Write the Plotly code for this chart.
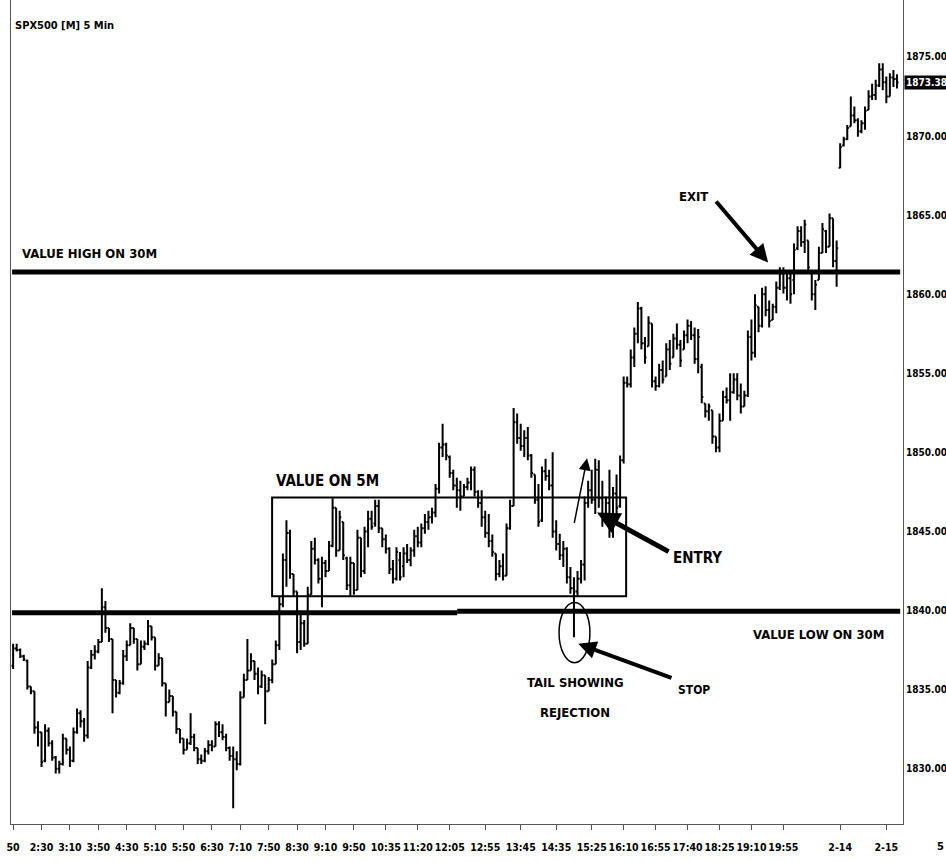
import plotly.graph_objects as go

# ---------------- data ----------------
opens = [
    1836.5, 1837.6, 1837.5, 1837.1, 1836.8, 1835.2, 1834.9, 1832.6, 1832.3, 1830.5,
    1832.4, 1831.6, 1830.7, 1830.0, 1830.3, 1831.9, 1831.2, 1830.5, 1832.3, 1833.5,
    1833.0, 1832.1, 1836.4, 1837.2, 1837.4, 1838.0, 1840.2, 1838.9, 1838.2, 1835.6,
    1834.8, 1835.4, 1837.1, 1837.8, 1838.9, 1838.2, 1836.6, 1837.7, 1837.9, 1839.0,
    1838.3, 1836.5, 1837.0, 1835.4, 1834.2, 1834.6, 1833.6, 1832.5, 1831.9, 1831.2,
    1831.6, 1832.0, 1831.3, 1830.6, 1830.5, 1831.1, 1831.5, 1831.4, 1832.8, 1832.3,
    1832.0, 1831.3, 1830.8, 1830.6, 1830.3, 1834.5, 1835.6, 1836.2, 1836.8, 1836.0,
    1835.2, 1835.9, 1834.9, 1835.6, 1836.6, 1837.8, 1840.4, 1843.2, 1844.9, 1842.3,
    1841.2, 1838.0, 1839.2, 1837.9, 1841.0, 1843.9, 1843.2, 1842.0, 1843.0, 1842.5,
    1844.1, 1846.5, 1843.8, 1845.6, 1843.3, 1841.6, 1843.0, 1841.3, 1844.6, 1842.5,
    1845.0, 1845.8, 1845.5, 1846.6, 1845.2, 1844.5, 1843.9, 1842.6, 1842.0, 1843.2,
    1842.8, 1843.6, 1843.2, 1843.8, 1844.7, 1844.3, 1845.2, 1845.6, 1845.9, 1846.2,
    1847.7, 1850.3, 1850.5, 1849.7, 1848.7, 1847.9, 1847.6, 1847.2, 1847.8, 1848.1,
    1848.9, 1847.5, 1846.8, 1845.9, 1844.9, 1844.4, 1843.6, 1842.3, 1842.8, 1842.2,
    1845.2, 1846.6, 1851.9, 1850.9, 1850.4, 1850.9, 1849.8, 1848.6, 1847.0, 1845.7,
    1848.8, 1848.5, 1847.9, 1845.0, 1844.2, 1843.5, 1843.9, 1842.1, 1841.4, 1841.2,
    1842.0, 1842.9, 1846.8, 1847.6, 1847.0, 1848.9, 1847.1, 1846.0, 1846.8, 1845.9,
    1847.4, 1846.6, 1849.5, 1854.4, 1854.3, 1856.0, 1857.5, 1859.1, 1856.9, 1856.7,
    1858.15, 1854.5, 1854.2, 1855.2, 1854.8, 1856.5, 1856.0, 1857.2, 1856.8, 1856.5,
    1857.4, 1858.0, 1857.4, 1855.9, 1855.4, 1853.08, 1852.6, 1852.66, 1851.0, 1850.3,
    1852.0, 1853.5, 1853.3, 1853.8, 1854.6, 1853.6, 1852.9, 1853.6, 1857.3, 1856.3,
    1859.2, 1858.0, 1860.0, 1859.0, 1858.36, 1859.2, 1860.4, 1861.3, 1860.4, 1861.0,
    1860.9, 1862.9, 1864.0, 1863.3, 1863.4, 1861.3, 1860.0, 1860.9, 1862.6, 1864.0,
    1863.0, 1864.8, 1862.1, 1868.0, 1869.4, 1869.8, 1870.6, 1871.3, 1871.0, 1870.3,
    1870.8, 1871.65, 1872.5, 1872.6, 1873.2, 1874.2, 1873.4, 1872.5, 1873.7, 1873.6,
]
highs = [
    1837.9, 1837.9, 1837.6, 1837.2, 1836.9, 1835.2, 1834.9, 1833.0, 1832.3, 1832.8,
    1832.6, 1831.8, 1830.8, 1830.5, 1832.2, 1831.9, 1831.4, 1832.6, 1833.8, 1833.7,
    1833.2, 1836.8, 1837.5, 1837.8, 1838.2, 1841.4, 1840.6, 1838.9, 1838.2, 1835.6,
    1835.6, 1837.5, 1838.1, 1839.2, 1838.9, 1838.2, 1838.1, 1838.1, 1839.4, 1839.0,
    1838.3, 1837.3, 1837.0, 1835.4, 1835.0, 1834.6, 1833.6, 1832.5, 1831.9, 1831.9,
    1833.5, 1832.2, 1831.3, 1830.9, 1831.3, 1831.8, 1831.8, 1833.0, 1833.0, 1832.8,
    1832.2, 1831.4, 1831.4, 1831.1, 1834.9, 1836.0, 1838.2, 1837.3, 1836.8, 1836.4,
    1836.2, 1835.9, 1835.8, 1836.9, 1838.1, 1840.9, 1843.6, 1845.7, 1845.1, 1842.3,
    1841.2, 1839.8, 1839.4, 1841.5, 1844.4, 1844.6, 1843.3, 1843.4, 1843.2, 1844.4,
    1847.1, 1846.5, 1846.3, 1845.6, 1843.4, 1843.4, 1843.0, 1845.1, 1844.6, 1845.3,
    1846.3, 1846.3, 1847.0, 1847.0, 1845.2, 1844.8, 1844.0, 1843.2, 1844.0, 1843.7,
    1844.0, 1844.2, 1844.0, 1845.1, 1845.3, 1845.5, 1846.1, 1846.3, 1846.5, 1848.0,
    1850.6, 1851.8, 1850.6, 1849.8, 1848.9, 1848.4, 1848.2, 1848.0, 1848.4, 1849.1,
    1849.1, 1847.6, 1847.6, 1846.3, 1846.1, 1844.8, 1843.6, 1843.2, 1843.6, 1845.5,
    1847.0, 1852.8, 1852.45, 1851.8, 1851.4, 1851.6, 1849.9, 1848.6, 1848.0, 1849.1,
    1849.6, 1848.9, 1850.0, 1845.7, 1844.85, 1844.4, 1844.0, 1842.75, 1842.1, 1842.5,
    1843.2, 1847.2, 1848.2, 1848.9, 1849.6, 1849.5, 1848.2, 1847.2, 1848.9, 1847.8,
    1848.6, 1849.8, 1854.8, 1854.8, 1856.5, 1857.9, 1859.5, 1859.2, 1857.3, 1858.6,
    1858.15, 1854.8, 1855.6, 1855.8, 1856.9, 1857.1, 1857.5, 1858.15, 1857.1, 1857.7,
    1858.4, 1858.3, 1857.9, 1857.8, 1855.6, 1853.08, 1853.08, 1852.66, 1851.0, 1852.45,
    1853.9, 1854.1, 1855.0, 1855.0, 1855.0, 1854.35, 1853.9, 1857.7, 1858.4, 1860.0,
    1859.2, 1860.4, 1860.5, 1859.6, 1859.4, 1860.8, 1861.7, 1861.7, 1861.5, 1861.3,
    1863.2, 1864.3, 1864.3, 1864.7, 1863.4, 1861.3, 1860.9, 1863.0, 1864.5, 1864.05,
    1865.1, 1864.8, 1863.4, 1869.54, 1869.96, 1870.7, 1872.5, 1871.86, 1871.12, 1871.0,
    1871.86, 1872.9, 1873.3, 1873.55, 1874.6, 1874.6, 1873.76, 1873.97, 1874.18, 1873.9,
]
lows = [
    1836.3, 1837.4, 1837.0, 1836.8, 1835.0, 1834.7, 1832.2, 1831.4, 1830.1, 1830.4,
    1831.4, 1830.5, 1829.7, 1829.7, 1830.2, 1830.9, 1830.1, 1830.4, 1832.2, 1832.6,
    1831.7, 1831.9, 1836.3, 1836.9, 1837.3, 1838.0, 1838.6, 1838.0, 1833.5, 1834.5,
    1834.7, 1835.3, 1836.8, 1837.8, 1837.9, 1836.2, 1836.6, 1837.5, 1837.8, 1838.1,
    1836.2, 1836.5, 1835.2, 1833.3, 1834.2, 1833.3, 1832.2, 1831.6, 1830.9, 1831.2,
    1831.5, 1831.1, 1830.3, 1830.3, 1830.4, 1830.9, 1831.1, 1831.4, 1832.0, 1831.8,
    1831.1, 1830.5, 1827.5, 1829.9, 1830.2, 1834.5, 1835.6, 1836.2, 1835.6, 1834.7,
    1835.1, 1832.8, 1834.9, 1835.4, 1836.6, 1837.5, 1840.2, 1841.5, 1842.0, 1840.9,
    1837.3, 1837.5, 1837.7, 1837.9, 1841.0, 1842.9, 1841.7, 1840.2, 1842.1, 1842.5,
    1844.0, 1843.4, 1843.8, 1843.2, 1841.3, 1840.9, 1841.0, 1841.3, 1842.1, 1842.3,
    1844.0, 1845.1, 1845.3, 1844.9, 1844.0, 1843.6, 1842.3, 1841.7, 1841.9, 1841.9,
    1842.1, 1843.0, 1842.8, 1843.4, 1844.0, 1844.0, 1844.85, 1845.1, 1845.5, 1845.9,
    1847.4, 1849.7, 1849.5, 1848.4, 1847.6, 1846.5, 1846.3, 1847.2, 1847.6, 1847.6,
    1847.2, 1846.5, 1845.3, 1844.6, 1844.0, 1843.4, 1841.9, 1842.1, 1841.9, 1842.2,
    1845.1, 1846.6, 1850.55, 1850.1, 1849.7, 1849.5, 1848.4, 1846.75, 1845.3, 1845.6,
    1848.2, 1847.6, 1844.6, 1843.8, 1843.2, 1842.75, 1841.7, 1841.06, 1838.3, 1840.85,
    1841.7, 1841.9, 1846.5, 1846.75, 1846.1, 1846.5, 1845.3, 1845.5, 1844.6, 1844.6,
    1846.1, 1846.5, 1849.3, 1854.1, 1854.1, 1855.4, 1856.9, 1856.5, 1855.6, 1856.7,
    1854.1, 1853.9, 1854.1, 1854.35, 1854.8, 1855.2, 1856.0, 1856.5, 1855.4, 1856.5,
    1856.9, 1857.1, 1855.6, 1855.0, 1853.1, 1852.2, 1852.0, 1850.55, 1850.0, 1850.0,
    1852.0, 1853.08, 1852.0, 1853.7, 1853.3, 1852.45, 1852.9, 1853.5, 1855.8, 1856.0,
    1857.6, 1857.9, 1858.6, 1857.9, 1858.36, 1858.8, 1860.26, 1860.05, 1859.6, 1859.4,
    1860.0, 1862.8, 1863.0, 1862.6, 1861.3, 1859.6, 1859.0, 1860.9, 1862.6, 1862.6,
    1863.0, 1861.7, 1860.47, 1867.96, 1869.33, 1869.75, 1870.6, 1870.8, 1869.96, 1870.17,
    1870.4, 1871.65, 1872.28, 1872.28, 1873.1, 1872.9, 1872.07, 1872.5, 1873.1, 1873.0,
]
closes = [
    1837.6, 1837.5, 1837.1, 1836.9, 1835.2, 1834.9, 1832.6, 1832.3, 1830.4, 1832.4,
    1831.6, 1830.7, 1830.0, 1830.3, 1831.9, 1831.2, 1830.5, 1832.3, 1833.5, 1833.0,
    1832.1, 1836.4, 1837.2, 1837.4, 1838.0, 1840.2, 1838.9, 1838.2, 1835.6, 1834.8,
    1835.4, 1837.1, 1837.8, 1838.9, 1838.2, 1836.6, 1837.7, 1837.9, 1839.0, 1838.3,
    1836.5, 1837.0, 1835.4, 1834.2, 1834.6, 1833.6, 1832.5, 1831.9, 1831.2, 1831.6,
    1832.0, 1831.3, 1830.6, 1830.5, 1831.1, 1831.5, 1831.4, 1832.8, 1832.3, 1832.0,
    1831.3, 1830.8, 1830.6, 1830.3, 1834.5, 1835.6, 1836.2, 1836.8, 1836.0, 1835.2,
    1835.9, 1834.9, 1835.6, 1836.6, 1837.8, 1840.4, 1843.2, 1844.9, 1842.3, 1841.2,
    1838.0, 1839.2, 1837.9, 1841.0, 1843.9, 1843.2, 1842.0, 1843.0, 1842.5, 1844.1,
    1846.5, 1843.8, 1845.9, 1843.5, 1841.6, 1843.0, 1841.3, 1844.6, 1842.5, 1845.0,
    1845.8, 1845.3, 1846.6, 1845.2, 1844.5, 1843.9, 1842.6, 1842.0, 1843.7, 1842.1,
    1843.6, 1843.2, 1843.8, 1844.7, 1844.3, 1845.2, 1845.6, 1845.9, 1846.2, 1847.7,
    1850.3, 1850.5, 1849.8, 1848.7, 1847.9, 1847.6, 1847.2, 1847.8, 1848.1, 1848.9,
    1847.5, 1846.8, 1845.9, 1844.9, 1844.4, 1843.7, 1842.3, 1842.8, 1842.2, 1845.2,
    1846.6, 1851.9, 1850.9, 1850.4, 1850.9, 1849.8, 1848.7, 1847.0, 1845.6, 1848.8,
    1848.5, 1847.9, 1845.0, 1844.2, 1843.5, 1843.9, 1842.1, 1841.4, 1841.2, 1842.0,
    1842.9, 1846.8, 1847.6, 1847.0, 1848.9, 1847.1, 1846.0, 1846.8, 1845.9, 1847.4,
    1846.5, 1849.5, 1854.4, 1854.3, 1856.0, 1857.5, 1859.1, 1856.9, 1856.0, 1858.2,
    1854.5, 1854.2, 1855.2, 1854.6, 1856.5, 1855.6, 1857.2, 1856.8, 1855.8, 1857.4,
    1858.0, 1857.4, 1855.9, 1857.3, 1853.5, 1852.6, 1852.9, 1851.0, 1850.3, 1852.0,
    1853.5, 1853.3, 1853.8, 1854.6, 1853.6, 1852.9, 1853.6, 1857.3, 1856.3, 1859.3,
    1858.0, 1860.0, 1859.0, 1858.3, 1859.2, 1860.4, 1861.3, 1860.4, 1861.0, 1860.0,
    1862.8, 1864.0, 1863.3, 1864.4, 1861.7, 1860.0, 1860.6, 1862.6, 1864.1, 1863.0,
    1864.8, 1862.1, 1862.9, 1869.3, 1869.8, 1870.5, 1871.3, 1871.0, 1870.3, 1870.8,
    1871.6, 1872.5, 1872.6, 1873.2, 1874.2, 1873.4, 1872.5, 1873.7, 1873.6, 1873.38,
]
bar_index = list(range(len(closes)))

time_tick_positions = [0, 8, 16, 24, 32, 40, 48, 56, 64, 72, 80, 88, 96, 105, 114,
                       123, 133, 143, 153, 163, 172, 181, 190, 199, 208, 217, 233, 246]
time_tick_labels = ["50", "2:30", "3:10", "3:50", "4:30", "5:10", "5:50", "6:30",
                    "7:10", "7:50", "8:30", "9:10", "9:50", "10:35", "11:20", "12:05",
                    "12:55", "13:45", "14:35", "15:25", "16:10", "16:55", "17:40",
                    "18:25", "19:10", "19:55", "2-14", "2-15"]
price_ticks = [1830, 1835, 1840, 1845, 1850, 1855, 1860, 1865, 1870, 1875]

value_high_30m = 1861.4
value_low_30m_left = 1839.85
value_low_30m_right = 1839.95
value_5m_low = 1840.9
value_5m_high = 1847.15
last_price = 1873.38

# ---------------- figure ----------------
FONT = "DejaVu Sans Condensed, Liberation Sans Narrow, Arial Narrow, sans-serif"

fig = go.Figure()
fig.add_trace(go.Ohlc(
    x=bar_index, open=opens, high=highs, low=lows, close=closes,
    increasing=dict(line=dict(color="black", width=2)),
    decreasing=dict(line=dict(color="black", width=2)),
    tickwidth=0.45, hoverinfo="skip", showlegend=False,
))

shapes = [
    dict(type="line", xref="x", yref="y", x0=-0.3, x1=249.9,
         y0=value_high_30m, y1=value_high_30m, line=dict(color="black", width=5)),
    dict(type="line", xref="x", yref="y", x0=-0.3, x1=125.1,
         y0=value_low_30m_left, y1=value_low_30m_left, line=dict(color="black", width=5)),
    dict(type="line", xref="x", yref="y", x0=125.1, x1=249.9,
         y0=value_low_30m_right, y1=value_low_30m_right, line=dict(color="black", width=5)),
    dict(type="rect", xref="x", yref="y", x0=72.96, x1=172.7,
         y0=value_5m_low, y1=value_5m_high, line=dict(color="black", width=2)),
    dict(type="circle", xref="x", yref="y", x0=153.8, x1=162.5,
         y0=1836.7, y1=1840.5, line=dict(color="black", width=1.5)),
]

def label(text, x, y, size=13, xanchor="center"):
    return dict(text=text, x=x, y=y, xref="x", yref="y", showarrow=False,
                xanchor=xanchor, yanchor="middle",
                font=dict(family=FONT, size=size, color="black", weight="bold"))

def arrow(x, y, ax, ay, width=4, size=0.9):
    return dict(text="", x=x, y=y, ax=ax, ay=ay, xref="x", yref="y",
                axref="x", ayref="y", showarrow=True, arrowhead=2,
                arrowsize=size, arrowwidth=width, arrowcolor="black")

annotations = [
    label("SPX500 [M] 5 Min", 0.0, 1876.96, size=11, xanchor="left"),
    label("VALUE HIGH ON 30M", 1.97, 1862.6, size=13, xanchor="left"),
    label("VALUE ON 5M", 73.5, 1848.2, size=15, xanchor="left"),
    label("EXIT", 191.8, 1866.2, size=13),
    label("ENTRY", 192.7, 1843.35, size=15),
    label("STOP", 191.8, 1834.95, size=12),
    label("TAIL SHOWING", 158.3, 1835.44, size=13),
    label("REJECTION", 158.3, 1833.55, size=13),
    label("VALUE LOW ON 30M", 226.8, 1838.5, size=13),
    arrow(212.7, 1862.0, 197.7, 1865.95, width=4),
    arrow(164.5, 1846.2, 185.1, 1843.67, width=5),
    arrow(161.7, 1849.62, 158.0, 1845.44, width=1.5, size=1.6),
    arrow(159.2, 1837.9, 185.9, 1835.7, width=4),
    dict(text="1873.38", x=1, xref="paper", y=last_price, yref="y", xanchor="left",
         xshift=1, showarrow=False, bgcolor="black", borderpad=1,
         font=dict(family=FONT, size=10, color="white", weight="bold")),
    dict(text="5", x=(940 - 11) / 892, xref="paper", y=(824 - 846) / 824, yref="paper",
         xanchor="center", yanchor="middle", showarrow=False,
         font=dict(family=FONT, size=11, color="black", weight="bold")),
]

fig.update_layout(
    width=946, height=862,
    margin=dict(l=11, r=43, t=0, b=38, autoexpand=False),
    paper_bgcolor="white", plot_bgcolor="white",
    shapes=shapes, annotations=annotations,
    showlegend=False,
    xaxis=dict(
        range=[-0.6, 250.7], rangeslider=dict(visible=False), automargin=False,
        tickmode="array", tickvals=time_tick_positions, ticktext=time_tick_labels,
        tickangle=0,
        showgrid=False, zeroline=False, showline=True, linecolor="#555", linewidth=1,
        ticks="outside", ticklen=5, tickcolor="#555", ticklabelstandoff=8,
        tickfont=dict(family=FONT, size=10.5, color="black", weight="bold"),
    ),
    yaxis=dict(
        range=[1826.5, 1878.6], side="right", automargin=False,
        tickmode="array", tickvals=price_ticks,
        ticktext=[f"{v:.2f}" for v in price_ticks],
        showgrid=False, zeroline=False, showline=True, mirror=True,
        linecolor="#555", linewidth=1, ticks="",
        tickfont=dict(family=FONT, size=10, color="black", weight="bold"),
    ),
)

fig.write_html("out.html",
               config={"displayModeBar": False},
               post_script="document.body.style.margin='0px';"
                           "document.body.style.overflow='hidden';")
